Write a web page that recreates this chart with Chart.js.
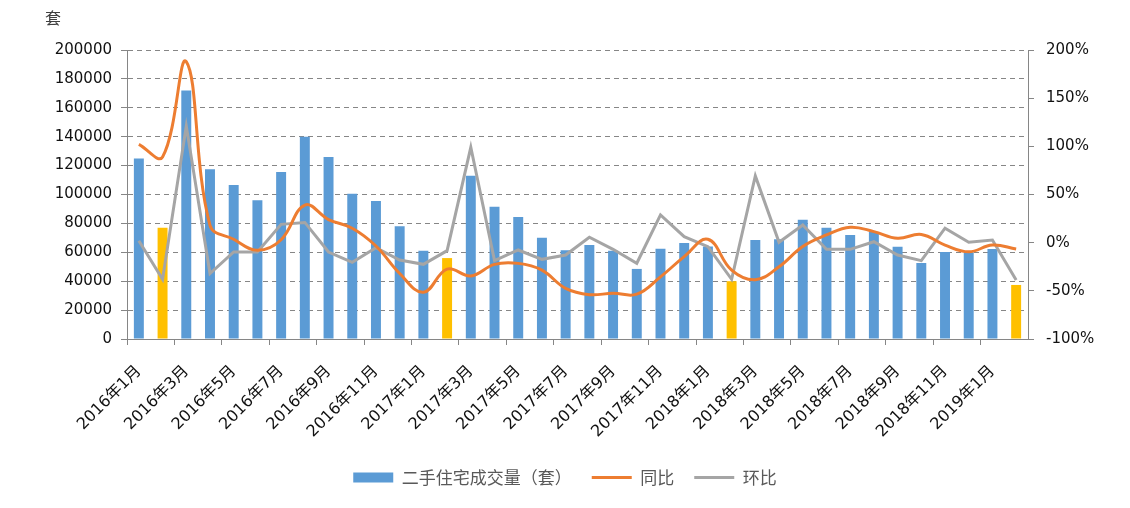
<!DOCTYPE html>
<html>
<head>
<meta charset="utf-8">
<script src="https://cdn.jsdelivr.net/npm/chart.js@4/dist/chart.umd.min.js"></script>
<style>
  html, body { margin: 0; padding: 0; background: #fff; }
  #wrap { width: 1130px; height: 508px; position: relative; }
</style>
</head>
<body>
<div id="wrap"><canvas id="c"></canvas></div>
<script>
// --- データ ---
const months = [
  '2016年1月','2016年2月','2016年3月','2016年4月','2016年5月','2016年6月',
  '2016年7月','2016年8月','2016年9月','2016年10月','2016年11月','2016年12月',
  '2017年1月','2017年2月','2017年3月','2017年4月','2017年5月','2017年6月',
  '2017年7月','2017年8月','2017年9月','2017年10月','2017年11月','2017年12月',
  '2018年1月','2018年2月','2018年3月','2018年4月','2018年5月','2018年6月',
  '2018年7月','2018年8月','2018年9月','2018年10月','2018年11月','2018年12月',
  '2019年1月','2019年2月'
];
const volume = [
  125000, 77000, 172000, 117500, 106500, 96000, 115500, 140000, 126000, 100500, 95500, 78000,
  61000, 56000, 113000, 91500, 84500, 70000, 61500, 65000, 61000, 48500, 62500, 66500,
  64000, 40000, 68500, 69000, 82500, 77000, 72000, 74000, 63800, 52600, 60200, 60000,
  62300, 37400
];
const yoy = [
  102, 89, 188, 18, 3.5, -8, 3, 39, 24, 15, -3.5, -32,
  -51.5, -27.5, -34.5, -22.5, -21.5, -28.5, -47.5, -54, -52.5, -53.5, -35.5, -14.5,
  3.5, -28.5, -38.5, -25, -4, 8, 16, 11.5, 4.5, 8.5, -2.5, -9.5,
  -2.5, -6.5
];
const mom = [
  2, -38, 121, -32, -9.7, -9.7, 19, 21, -9.7, -20.4, -5.2, -18,
  -22.5, -8.3, 99, -18.7, -7.6, -17.3, -12.8, 5.6, -6.9, -21.4, 28.8, 6.2,
  -4.2, -38, 69.3, 0.4, 18.4, -6.9, -6.9, 1, -12.8, -18.7, 15, 0.4,
  2.8, -38.7
];
// 春節の月（2月）は黄色
const springMonths = [1, 13, 25, 37];

const BLUE = '#5B9BD5', YELLOW = '#FFC000', ORANGE = '#ED7D31', GRAY = '#A5A5A5';
const AXIS = '#868686';
const NUM_FONT = { family: '"DejaVu Sans", "Noto Sans CJK SC", sans-serif', size: 15 };
const X_FONT = { family: '"DejaVu Sans", "Noto Sans CJK SC", sans-serif', size: 16 };

const barColors = volume.map((v, i) => springMonths.includes(i) ? YELLOW : BLUE);

// --- 「套」ラベル ---
const unitLabel = {
  id: 'unitLabel',
  afterDraw(chart) {
    const c = chart.ctx;
    c.save();
    c.font = '16px "Noto Sans CJK SC", sans-serif';
    c.fillStyle = '#404040';
    c.textAlign = 'center';
    c.textBaseline = 'middle';
    c.fillText('套', chart.scales.y.left + 53, chart.chartArea.top - 32);
    c.restore();
  }
};

new Chart(document.getElementById('c'), {
  type: 'bar',
  data: {
    labels: months,
    datasets: [
      {
        type: 'bar',
        label: '二手住宅成交量（套）',
        data: volume,
        backgroundColor: barColors,
        borderWidth: 0,
        categoryPercentage: 1,
        barPercentage: 0.42,
        yAxisID: 'y',
        pointStyle: 'rect',
        order: 3
      },
      {
        type: 'line',
        label: '同比',
        data: yoy,
        borderColor: ORANGE,
        backgroundColor: ORANGE,
        borderWidth: 3,
        tension: 0.4,
        pointRadius: 0,
        pointStyle: 'line',
        yAxisID: 'y1',
        order: 1
      },
      {
        type: 'line',
        label: '环比',
        data: mom,
        borderColor: GRAY,
        backgroundColor: GRAY,
        borderWidth: 3,
        tension: 0,
        pointRadius: 0,
        pointStyle: 'line',
        yAxisID: 'y1',
        order: 2
      }
    ]
  },
  options: {
    responsive: true,
    maintainAspectRatio: false,
    animation: false,
    layout: { padding: { top: 50, left: 0, right: 0, bottom: 12 } },
    scales: {
      x: {
        offset: true,
        grid: {
          offset: true,
          drawOnChartArea: false,
          tickLength: 6,
          color: ctx => ctx.index % 2 === 0 ? AXIS : 'rgba(0,0,0,0)'
        },
        border: { color: AXIS },
        ticks: {
          autoSkip: false,
          minRotation: 45,
          maxRotation: 45,
          padding: 17,
          color: '#111',
          font: X_FONT,
          callback: (v, i) => i % 2 === 0 ? months[i] : ''
        },
        afterFit: s => { s.height = 110; }
      },
      y: {
        position: 'left',
        min: 0,
        max: 200000,
        ticks: { stepSize: 20000, color: '#111', font: NUM_FONT, padding: 9, callback: v => String(v) },
        grid: {
          color: AXIS,
          tickBorderDash: [],
          tickLength: 6
        },
        border: { color: AXIS, dash: [5, 4] },
        afterFit: s => { s.width = 127; }
      },
      y1: {
        position: 'right',
        min: -100,
        max: 200,
        ticks: { stepSize: 50, color: '#111', font: NUM_FONT, padding: 12, callback: v => v + '%' },
        grid: { drawOnChartArea: false, tickLength: 6, color: AXIS },
        border: { color: AXIS },
        afterFit: s => { s.width = 102; }
      }
    },
    plugins: {
      legend: {
        position: 'bottom',
        labels: {
          usePointStyle: true,
          pointStyleWidth: 40,
          boxHeight: 10,
          padding: 20,
          color: '#595959',
          font: { family: '"Noto Sans CJK SC", sans-serif', size: 17 },
          sort: (a, b) => a.datasetIndex - b.datasetIndex
        }
      },
      tooltip: { enabled: false }
    }
  },
  plugins: [unitLabel]
});
</script>
</body>
</html>
